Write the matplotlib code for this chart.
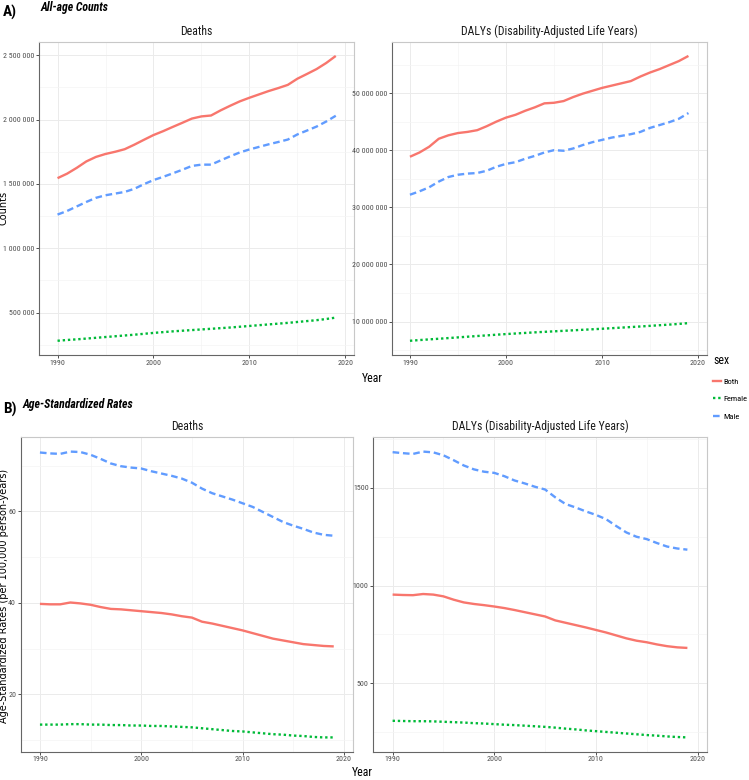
import matplotlib
matplotlib.use("Agg")
import matplotlib.pyplot as plt
from matplotlib import font_manager
from matplotlib.font_manager import FontProperties
from matplotlib.ticker import MultipleLocator, FuncFormatter
from matplotlib.lines import Line2D

# ---- data ----
years = list(range(1990, 2020))

# all-age counts: deaths (thousands), DALYs (millions)
deaths_both = [1545, 1580, 1625, 1675, 1710, 1733, 1750, 1770, 1805, 1843,
               1880, 1910, 1943, 1975, 2008, 2025, 2032, 2072, 2108, 2142,
               2170, 2196, 2222, 2245, 2270, 2318, 2355, 2393, 2440, 2495]
deaths_male = [1262, 1290, 1325, 1360, 1392, 1412, 1425, 1438, 1462, 1498,
               1530, 1555, 1582, 1610, 1640, 1650, 1650, 1683, 1715, 1745,
               1768, 1788, 1808, 1826, 1845, 1885, 1915, 1946, 1985, 2030]
deaths_female = [281, 287, 292, 298, 304, 310, 316, 322, 328, 335,
                 342, 348, 354, 359, 364, 369, 374, 379, 384, 390,
                 396, 402, 408, 414, 420, 427, 434, 441, 450, 461]

dalys_both = [38.85, 39.6, 40.6, 42.0, 42.6, 43.0, 43.2, 43.5, 44.2, 45.0,
              45.7, 46.2, 46.9, 47.5, 48.2, 48.3, 48.6, 49.3, 49.9, 50.4,
              50.9, 51.3, 51.7, 52.1, 52.9, 53.6, 54.2, 54.9, 55.6, 56.5]
dalys_male = [32.2, 32.8, 33.5, 34.5, 35.3, 35.7, 35.9, 36.0, 36.4, 37.1,
              37.6, 37.9, 38.5, 39.0, 39.6, 40.0, 39.9, 40.3, 40.9, 41.4,
              41.8, 42.2, 42.5, 42.8, 43.2, 43.9, 44.4, 44.9, 45.5, 46.5]
dalys_female = [6.63, 6.75, 6.87, 6.98, 7.10, 7.22, 7.34, 7.46, 7.57, 7.69,
                7.80, 7.90, 8.00, 8.10, 8.19, 8.28, 8.37, 8.46, 8.55, 8.64,
                8.73, 8.83, 8.93, 9.03, 9.13, 9.24, 9.35, 9.46, 9.58, 9.72]

# age-standardized rates per 100,000
asr_deaths_both = [39.8, 39.7, 39.7, 40.1, 39.9, 39.6, 39.1, 38.7, 38.6, 38.4,
                   38.2, 38.0, 37.8, 37.5, 37.1, 36.8, 35.9, 35.5, 35.0, 34.5,
                   34.0, 33.4, 32.8, 32.2, 31.8, 31.4, 31.0, 30.8, 30.6, 30.5]
asr_deaths_male = [72.9, 72.7, 72.6, 73.1, 73.0, 72.4, 71.5, 70.5, 69.9, 69.6,
                   69.4, 68.8, 68.3, 67.8, 67.2, 66.3, 65.0, 64.0, 63.3, 62.6,
                   61.8, 61.0, 59.9, 58.8, 57.7, 56.9, 56.2, 55.4, 54.9, 54.7]
asr_deaths_female = [13.4, 13.4, 13.4, 13.5, 13.5, 13.4, 13.4, 13.3, 13.3, 13.2,
                     13.2, 13.1, 13.1, 13.0, 12.9, 12.8, 12.6, 12.4, 12.2, 12.0,
                     11.9, 11.7, 11.5, 11.3, 11.2, 11.0, 10.9, 10.7, 10.6, 10.6]

asr_dalys_both = [954, 952, 951, 957, 954, 945, 928, 914, 906, 900,
                  893, 885, 875, 864, 853, 842, 822, 810, 798, 786,
                  773, 760, 745, 730, 718, 710, 699, 690, 684, 681]
asr_dalys_male = [1683, 1678, 1674, 1686, 1682, 1667, 1642, 1615, 1595, 1583,
                  1577, 1560, 1538, 1523, 1506, 1492, 1452, 1418, 1400, 1380,
                  1362, 1340, 1305, 1272, 1250, 1238, 1218, 1200, 1190, 1184]
asr_dalys_female = [308, 307, 306, 306, 305, 303, 301, 299, 296, 294,
                    291, 288, 286, 283, 280, 277, 273, 268, 264, 259,
                    255, 251, 247, 243, 239, 235, 232, 228, 225, 223]

sexes = ["Both", "Female", "Male"]
colors = {"Both": "#F8766D", "Female": "#00BA38", "Male": "#619CFF"}
styles = {"Both": "-", "Female": (0, (1.0, 1.2)), "Male": (0, (2.8, 1.6))}

# pick a narrow font if one is installed (reference uses Arial Narrow look)
installed = font_manager.fontManager.ttflist
names = {f.name for f in installed}
NARROW_FAMILY = None
NARROW_STRETCH = "normal"
for cand in ["Liberation Sans Narrow", "Roboto Condensed", "Open Sans Condensed",
             "Noto Sans Condensed", "DejaVu Sans Condensed", "Arial Narrow"]:
    if cand in names:
        NARROW_FAMILY = cand
        break
if NARROW_FAMILY is None:
    for fam in ["Noto Sans", "Open Sans", "Roboto", "DejaVu Sans", "Inter", "Lato"]:
        conds = [f for f in installed if f.name == fam and
                 str(f.stretch) in ("condensed", "semi-condensed", "extra-condensed", "500", "300", "400")
                 and str(f.stretch) != "normal"]
        if conds:
            NARROW_FAMILY = fam
            NARROW_STRETCH = "condensed"
            break
if NARROW_FAMILY is None:
    NARROW_FAMILY = "Liberation Sans"
    SHRINK = 0.82
else:
    SHRINK = 1.0


def nfont(size, weight="normal", style="normal"):
    return FontProperties(family=[NARROW_FAMILY, "DejaVu Sans"], stretch=NARROW_STRETCH,
                          size=size * SHRINK, weight=weight, style=style)


WIDE = ["DejaVu Sans"]

W, H = 749, 780
fig = plt.figure(figsize=(W / 100, H / 100), dpi=100)


def px_axes(x0, y0, x1, y1):
    return fig.add_axes([x0 / W, 1 - y1 / H, (x1 - x0) / W, (y1 - y0) / H])


def space_thousands(v, pos):
    return f"{v:,.0f}".replace(",", " ")


def style_panel(ax, title, major, minor, fmt=None):
    ax.set_xlim(1988.1, 2020.9)
    ax.xaxis.set_major_locator(MultipleLocator(10))
    ax.xaxis.set_minor_locator(MultipleLocator(5))
    ax.yaxis.set_major_locator(MultipleLocator(major))
    ax.yaxis.set_minor_locator(MultipleLocator(minor))
    if fmt is not None:
        ax.yaxis.set_major_formatter(FuncFormatter(fmt))
    ax.grid(which="major", color="#EBEBEB", lw=0.7)
    ax.grid(which="minor", color="#F4F4F4", lw=0.5)
    ax.set_axisbelow(True)
    ax.tick_params(which="major", length=2, width=0.6, color="#333333",
                   labelcolor="#4D4D4D", pad=1.3)
    ax.tick_params(which="minor", length=0)
    for lab in ax.get_xticklabels() + ax.get_yticklabels():
        lab.set_fontproperties(nfont(5.7))
    for s in ["top", "right"]:
        ax.spines[s].set_color("#C8C8C8")
        ax.spines[s].set_linewidth(0.8)
    for s in ["left", "bottom"]:
        ax.spines[s].set_color("#666666")
        ax.spines[s].set_linewidth(0.8)
    ax.set_title(title, fontproperties=nfont(8.5), color="#1A1A1A", pad=5)


def draw(ax, series, scale=1.0):
    for sex in sexes:
        vals = [v * scale for v in series[sex]]
        ax.plot(years, vals, color=colors[sex], linestyle=styles[sex],
                lw=1.7, solid_capstyle="butt", dash_capstyle="butt", label=sex)


# ---- A) all-age counts ----
ax1 = px_axes(39.3, 41.7, 354, 355)
draw(ax1, {"Both": deaths_both, "Female": deaths_female, "Male": deaths_male}, 1000)
style_panel(ax1, "Deaths", 500000, 250000, space_thousands)

ax2 = px_axes(391.7, 41.7, 706.7, 355)
draw(ax2, {"Both": dalys_both, "Female": dalys_female, "Male": dalys_male}, 1e6)
style_panel(ax2, "DALYs (Disability-Adjusted Life Years)", 10000000, 5000000, space_thousands)

# ---- B) age-standardized rates ----
ax3 = px_axes(20.7, 437.3, 353, 751.7)
draw(ax3, {"Both": asr_deaths_both, "Female": asr_deaths_female, "Male": asr_deaths_male})
style_panel(ax3, "Deaths", 20, 10)

ax4 = px_axes(373.3, 437.3, 706.7, 751.7)
draw(ax4, {"Both": asr_dalys_both, "Female": asr_dalys_female, "Male": asr_dalys_male})
style_panel(ax4, "DALYs (Disability-Adjusted Life Years)", 500, 250)

# ---- labels ----
fig.text(3 / W, 1 - 12 / H, "A)", fontproperties=nfont(11, weight="bold"), va="center")
fig.text(40 / W, 1 - 7 / H, "All-age Counts", fontproperties=nfont(8.5, weight="bold", style="italic"),
         va="center")
fig.text(3 / W, 1 - 409 / H, "B)", fontproperties=nfont(11, weight="bold"), va="center")
fig.text(22 / W, 1 - 404 / H, "Age-Standardized Rates",
         fontproperties=nfont(8.5, weight="bold", style="italic"), va="center")

fig.text(4 / W, 1 - 208 / H, "Counts", fontsize=7.0, family=WIDE, rotation=90,
         ha="center", va="center")
fig.text(4 / W, 1 - 596 / H, "Age-Standardized Rates (per 100,000 person-years)",
         fontsize=7.0, family=WIDE, rotation=90, ha="center", va="center")

fig.text(372 / W, 1 - 378 / H, "Year", fontproperties=nfont(8.5), ha="center", va="center")
fig.text(362 / W, 1 - 773 / H, "Year", fontproperties=nfont(8.5), ha="center", va="center")

# ---- legend ----
handles = [Line2D([], [], color=colors[s], linestyle=styles[s], lw=1.7,
                  dash_capstyle="butt") for s in sexes]
leg = fig.legend(handles, sexes, loc="upper left", bbox_to_anchor=(713 / W, 1 - 354 / H),
                 frameon=False, title="sex", handlelength=0.9, handletextpad=0.35,
                 labelspacing=1.3, borderaxespad=0, borderpad=0,
                 prop=nfont(6.0), title_fontproperties=nfont(8.5))
leg._legend_box.align = "left"

fig.savefig("out.png", dpi=100)
